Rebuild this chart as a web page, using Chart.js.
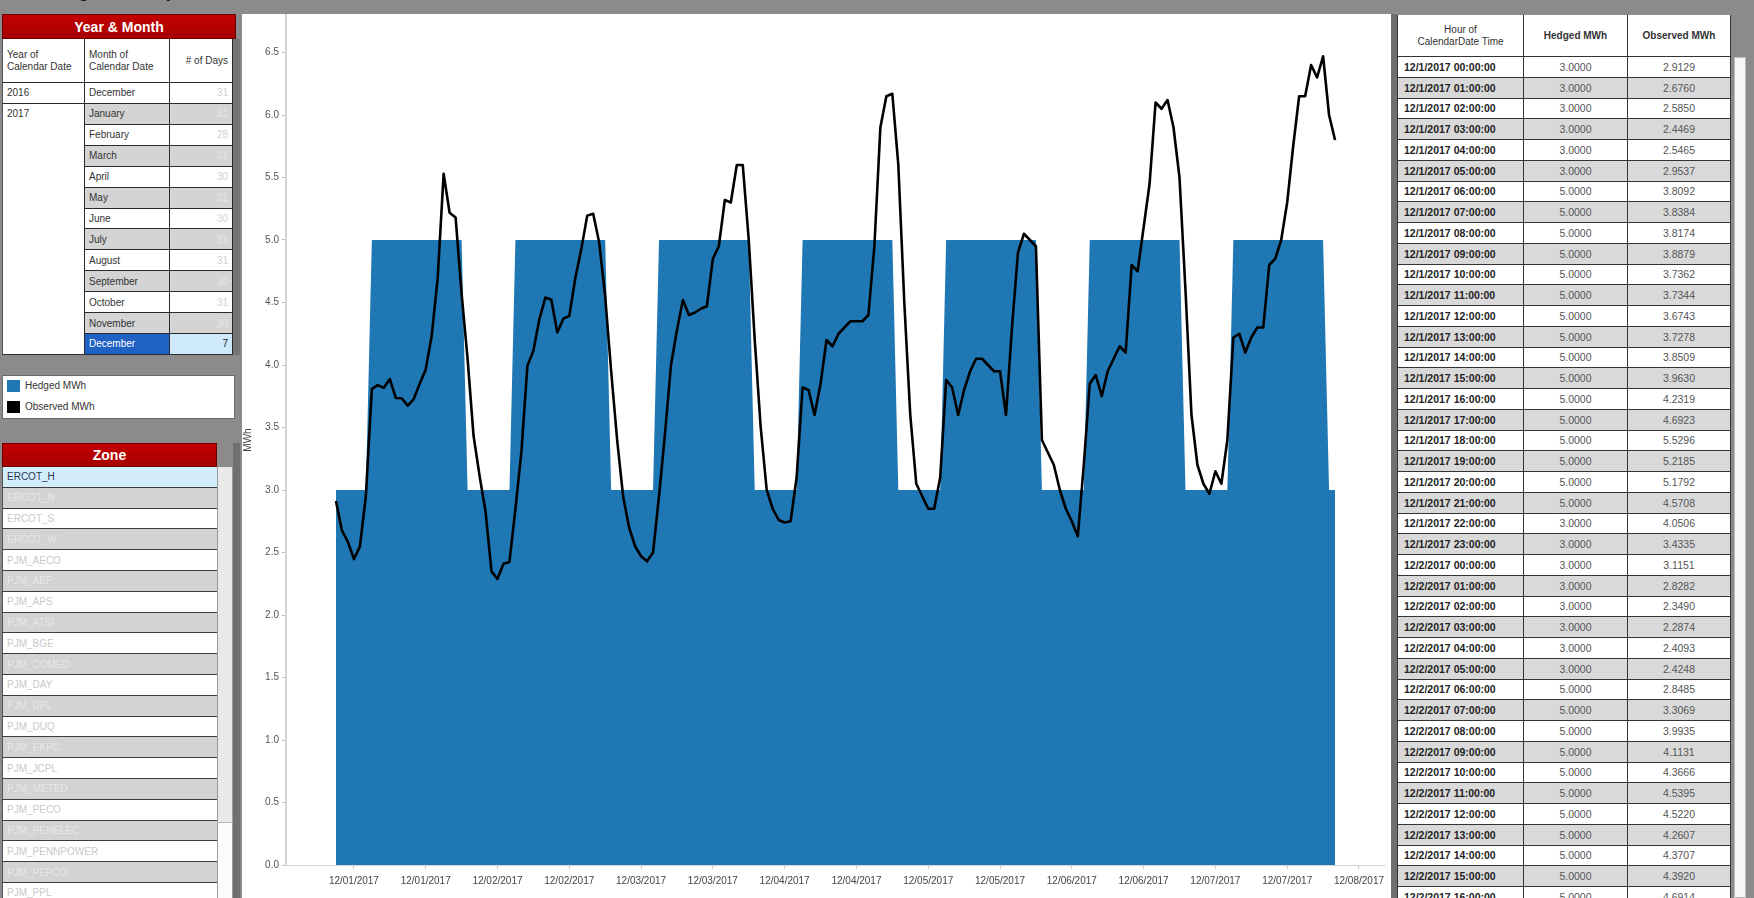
<!DOCTYPE html>
<html lang="en">
<head>
<meta charset="utf-8">
<title>Zone Hedge Summary</title>
<script src="https://cdn.jsdelivr.net/npm/chart.js@4.4.1/dist/chart.umd.min.js"></script>
<style>
  html, body { margin: 0; padding: 0; }
  body {
    width: 1754px; height: 898px; overflow: hidden; position: relative;
    background: #8b8b8b;
    font-family: "Liberation Sans", Arial, Helvetica, sans-serif; color: #333;
  }
  .box { position: absolute; box-sizing: border-box; overflow: hidden; white-space: nowrap; }
  .title { position: absolute; left: 6px; top: -15px; font: bold 16px/16px "Liberation Sans", Arial, sans-serif; color: #1a1a1a; white-space: nowrap; }
  .hdr { background: linear-gradient(#c40000, #a60000); color: #fff; font-weight: bold; font-size: 14px;
         display: flex; align-items: center; justify-content: center; border: 1px solid #6a0000; }
  .cell { font-size: 10px; display: flex; align-items: center; padding: 0 4px; }
  #chartPanel { position: absolute; left: 242px; top: 14px; width: 1149px; height: 884px; background: #fff; }
  #chartPanel canvas { display: block; }
</style>
</head>
<body>
<div class="title">Zone Hedge Summary</div>
<div id="chartPanel"><canvas id="mwhChart" width="1149" height="884" style="width:1149px;height:884px"></canvas></div>

<script>
// ---------- data ----------
const yearMonthYears = ['2016', '2017'];
const monthNames = ['December', 'January', 'February', 'March', 'April', 'May', 'June',
                    'July', 'August', 'September', 'October', 'November', 'December'];
const monthDayCounts = [31, 31, 28, 31, 30, 31, 30, 31, 31, 30, 31, 30, 7];
const selectedMonthIndex = 12;

const zoneNames = ['ERCOT_H', 'ERCOT_N', 'ERCOT_S', 'ERCOT_W', 'PJM_AECO', 'PJM_AEP', 'PJM_APS',
                   'PJM_ATSI', 'PJM_BGE', 'PJM_COMED', 'PJM_DAY', 'PJM_DPL', 'PJM_DUQ', 'PJM_EKPC',
                   'PJM_JCPL', 'PJM_METED', 'PJM_PECO', 'PJM_PENELEC', 'PJM_PENNPOWER', 'PJM_PEPCO', 'PJM_PPL'];
const selectedZoneIndex = 0;

const dayLabels = ['12/1/2017', '12/2/2017', '12/3/2017', '12/4/2017', '12/5/2017', '12/6/2017', '12/7/2017'];
const hourLabels = ['00:00:00', '01:00:00', '02:00:00', '03:00:00', '04:00:00', '05:00:00',
                    '06:00:00', '07:00:00', '08:00:00', '09:00:00', '10:00:00', '11:00:00',
                    '12:00:00', '13:00:00', '14:00:00', '15:00:00', '16:00:00', '17:00:00',
                    '18:00:00', '19:00:00', '20:00:00', '21:00:00', '22:00:00', '23:00:00'];

// hourly hedge (MWh), one row per day
const hedgedMWh = [
  3,3,3,3,3,3, 5,5,5,5,5,5,5,5,5,5,5,5,5,5,5,5, 3,3,
  3,3,3,3,3,3, 5,5,5,5,5,5,5,5,5,5,5,5,5,5,5,5, 3,3,
  3,3,3,3,3,3, 5,5,5,5,5,5,5,5,5,5,5,5,5,5,5,5, 3,3,
  3,3,3,3,3,3, 5,5,5,5,5,5,5,5,5,5,5,5,5,5,5,5, 3,3,
  3,3,3,3,3,3, 5,5,5,5,5,5,5,5,5,5,5,5,5,5,5,5, 3,3,
  3,3,3,3,3,3, 5,5,5,5,5,5,5,5,5,5,5,5,5,5,5,5, 3,3,
  3,3,3,3,3,3, 5,5,5,5,5,5,5,5,5,5,5,5,5,5,5,5, 3,3
];

// hourly observed load (MWh), one row per day
const observedMWh = [
  2.9129, 2.6760, 2.5850, 2.4469, 2.5465, 2.9537, 3.8092, 3.8384, 3.8174, 3.8879, 3.7362, 3.7344,
  3.6743, 3.7278, 3.8509, 3.9630, 4.2319, 4.6923, 5.5296, 5.2185, 5.1792, 4.5708, 4.0506, 3.4335,
  3.1151, 2.8282, 2.3490, 2.2874, 2.4093, 2.4248, 2.8485, 3.3069, 3.9935, 4.1131, 4.3666, 4.5395,
  4.5220, 4.2607, 4.3707, 4.3920, 4.6914, 4.9250, 5.1950, 5.2100, 4.9800, 4.5500, 3.9500, 3.4000,
  2.9500, 2.7000, 2.5500, 2.4700, 2.4300, 2.5000, 2.9500, 3.4500, 4.0000, 4.2800, 4.5200, 4.4000,
  4.4200, 4.4500, 4.4700, 4.8500, 4.9500, 5.3200, 5.3000, 5.6000, 5.6000, 5.0000, 4.2000, 3.5000,
  3.0000, 2.8500, 2.7600, 2.7400, 2.7500, 3.1000, 3.8200, 3.8000, 3.6000, 3.8500, 4.2000, 4.1500,
  4.2500, 4.3000, 4.3500, 4.3500, 4.3500, 4.4000, 4.9500, 5.9000, 6.1500, 6.1700, 5.6000, 4.5000,
  3.6000, 3.0500, 2.9500, 2.8500, 2.8500, 3.1000, 3.8800, 3.8200, 3.6000, 3.8000, 3.9500, 4.0500,
  4.0500, 4.0000, 3.9500, 3.9500, 3.6000, 4.3000, 4.9000, 5.0500, 5.0000, 4.9500, 3.4000, 3.3000,
  3.2000, 3.0000, 2.8500, 2.7500, 2.6300, 3.2000, 3.8500, 3.9200, 3.7500, 3.9500, 4.0500, 4.1500,
  4.1000, 4.8000, 4.7500, 5.1000, 5.4500, 6.1000, 6.0500, 6.1200, 5.9000, 5.5000, 4.6000, 3.6000,
  3.2000, 3.0500, 2.9700, 3.1500, 3.0500, 3.4000, 4.2200, 4.2500, 4.1000, 4.2200, 4.3000, 4.3000,
  4.8000, 4.8500, 5.0000, 5.3000, 5.7500, 6.1500, 6.1500, 6.4000, 6.3000, 6.4700, 6.0000, 5.8000
];

const xTickLabels = ['12/01/2017', '12/01/2017', '12/02/2017', '12/02/2017', '12/03/2017',
                     '12/03/2017', '12/04/2017', '12/04/2017', '12/05/2017', '12/05/2017',
                     '12/06/2017', '12/06/2017', '12/07/2017', '12/07/2017', '12/08/2017'];
const xTickStepHours = 12;
const xTickShiftHours = 3.0;
const tableRowCount = 41;

// ---------- small DOM helpers ----------
function box(x, y, w, h, css, text, cls) {
  const d = document.createElement('div');
  d.className = 'box' + (cls ? ' ' + cls : '');
  d.style.left = x + 'px'; d.style.top = y + 'px';
  d.style.width = w + 'px'; d.style.height = h + 'px';
  if (css) d.style.cssText += css;
  if (text != null) d.innerHTML = text;
  document.body.appendChild(d);
  return d;
}

// ---------- Year & Month filter ----------
box(2, 14, 234, 25, '', 'Year &amp; Month', 'hdr');
box(233, 39, 7, 316, 'background:#747474;');
const ymCols = [2, 85, 170, 233];
const ymHeadTop = 39, ymHeadH = 44, ymRowTop = 83, ymRowH = 20.92;
const cellBorder = 'border-right:1px solid #2b2b2b;border-bottom:1px solid #2b2b2b;';
box(ymCols[0], ymHeadTop, ymCols[1] - ymCols[0], ymHeadH,
    'background:#fff;color:#333;line-height:12px;border-left:1px solid #555;' + cellBorder,
    'Year of<br>Calendar Date', 'cell');
box(ymCols[1], ymHeadTop, ymCols[2] - ymCols[1], ymHeadH,
    'background:#fff;color:#333;line-height:12px;' + cellBorder, 'Month of<br>Calendar Date', 'cell');
box(ymCols[2], ymHeadTop, ymCols[3] - ymCols[2], ymHeadH,
    'background:#fff;color:#333;justify-content:flex-end;' + cellBorder, '# of Days', 'cell');
// year column (2016 has one month, 2017 spans the rest)
box(ymCols[0], ymRowTop, ymCols[1] - ymCols[0], ymRowH,
    'background:#fff;color:#333;border-left:1px solid #555;' + cellBorder, yearMonthYears[0], 'cell');
box(ymCols[0], ymRowTop + ymRowH, ymCols[1] - ymCols[0], ymRowH * (monthNames.length - 1),
    'background:#fff;color:#333;align-items:flex-start;padding-top:4px;line-height:12px;border-left:1px solid #555;' + cellBorder,
    yearMonthYears[1], 'cell');
monthNames.forEach((m, i) => {
  const y = ymRowTop + i * ymRowH;
  const grey = i % 2 === 1;
  const sel = i === selectedMonthIndex;
  const bgM = sel ? '#1f62c4' : (grey ? '#d4d4d4' : '#fff');
  const bgD = sel ? '#cfe9fc' : (grey ? '#d4d4d4' : '#fff');
  box(ymCols[1], y, ymCols[2] - ymCols[1], ymRowH,
      'background:' + bgM + ';color:' + (sel ? '#fff' : '#333') + ';' + cellBorder, m, 'cell');
  box(ymCols[2], y, ymCols[3] - ymCols[2], ymRowH,
      'background:' + bgD + ';justify-content:flex-end;color:' + (sel ? '#222' : (grey ? '#e6e6e6' : '#d2d2d2')) + ';' + cellBorder,
      String(monthDayCounts[i]), 'cell');
});

// ---------- legend ----------
box(2, 375, 233, 44, 'background:#fff;border:1px solid #6a6a6a;');
box(7, 380, 13, 12, 'background:#1f77b4;');
box(25, 379, 150, 14, 'font-size:10px;line-height:14px;color:#333;', 'Hedged MWh');
box(7, 401, 13, 12, 'background:#000;');
box(25, 400, 150, 14, 'font-size:10px;line-height:14px;color:#333;', 'Observed MWh');

// ---------- Zone filter ----------
box(2, 443, 215, 24, '', 'Zone', 'hdr');
box(233, 443, 7, 455, 'background:#707070;');
box(217, 467, 16, 431, 'background:#fbfbfb;border-left:1px solid #9a9a9a;border-right:1px solid #9a9a9a;');
box(217, 467, 16, 356, 'background:#e9e9e9;border-left:1px solid #9a9a9a;border-right:1px solid #9a9a9a;border-bottom:1px solid #b5b5b5;');
const zoneTop = 467, zoneRowH = 20.8;
zoneNames.forEach((z, i) => {
  const sel = i === selectedZoneIndex;
  const grey = i % 2 === 1;
  box(2, zoneTop + i * zoneRowH, 215, zoneRowH,
      'background:' + (sel ? '#d4edfb' : (grey ? '#d3d3d3' : '#fff')) +
      ';color:' + (sel ? '#2c3550' : (grey ? '#e7e7e7' : '#c9c9c9')) +
      ';border-bottom:1px solid #3c3c3c;border-left:1px solid #555;', z, 'cell');
});

// ---------- hourly table ----------
box(1391, 14, 6, 884, 'background:#6f6f6f;');
const tCols = [1397, 1524, 1628, 1731];
const tHeadTop = 15, tHeadH = 42, tRowTop = 57, tRowH = 20.75;
const tBorder = 'border-right:1px solid #333;border-bottom:1px solid #333;';
box(tCols[0], tHeadTop, tCols[1] - tCols[0], tHeadH,
    'background:#fff;justify-content:center;text-align:center;line-height:12px;color:#333;border-left:1px solid #333;' + tBorder,
    'Hour of<br>CalendarDate Time', 'cell');
box(tCols[1], tHeadTop, tCols[2] - tCols[1], tHeadH,
    'background:#fff;justify-content:center;font-weight:bold;color:#333;' + tBorder, 'Hedged MWh', 'cell');
box(tCols[2], tHeadTop, tCols[3] - tCols[2], tHeadH,
    'background:#fff;justify-content:center;font-weight:bold;color:#333;' + tBorder, 'Observed MWh', 'cell');
for (let i = 0; i < tableRowCount; i++) {
  const y = tRowTop + i * tRowH;
  const bg = i % 2 === 1 ? '#d9d9d9' : '#fff';
  const label = dayLabels[Math.floor(i / 24)] + ' ' + hourLabels[i % 24];
  box(tCols[0], y, tCols[1] - tCols[0], tRowH,
      'background:' + bg + ';font-weight:bold;color:#222;font-size:10.5px;padding-left:6px;border-left:1px solid #333;' + tBorder,
      label, 'cell');
  box(tCols[1], y, tCols[2] - tCols[1], tRowH,
      'background:' + bg + ';justify-content:center;color:#555;font-size:10.5px;' + tBorder,
      hedgedMWh[i].toFixed(4), 'cell');
  box(tCols[2], y, tCols[3] - tCols[2], tRowH,
      'background:' + bg + ';justify-content:center;color:#555;font-size:10.5px;' + tBorder,
      observedMWh[i].toFixed(4), 'cell');
}
box(1734, 57, 12, 841, 'background:#f6f6f6;border:1px solid #bcbcbc;');

// ---------- chart ----------
const hedgedPoints = hedgedMWh.map((v, i) => ({ x: i, y: v }));
const observedPoints = observedMWh.map((v, i) => ({ x: i, y: v }));
const tickFont = { family: '"Liberation Sans", Arial, sans-serif', size: 10 };

new Chart(document.getElementById('mwhChart'), {
  type: 'line',
  data: {
    datasets: [
      {
        label: 'Observed MWh', data: observedPoints, order: 0,
        borderColor: '#000', borderWidth: 2.6, borderJoinStyle: 'round',
        pointRadius: 0, tension: 0, fill: false
      },
      {
        label: 'Hedged MWh', data: hedgedPoints, order: 1,
        borderColor: '#1f77b4', backgroundColor: '#1f77b4', borderWidth: 0,
        pointRadius: 0, tension: 0, fill: 'origin'
      }
    ]
  },
  options: {
    responsive: false, animation: false, devicePixelRatio: 1,
    layout: { padding: { left: 0, right: 6, top: 1, bottom: 0 } },
    plugins: { legend: { display: false }, tooltip: { enabled: false } },
    scales: {
      x: {
        type: 'linear', min: -8.35, max: 175.35,
        afterBuildTicks: s => { s.ticks = xTickLabels.map((_, i) => ({ value: i * xTickStepHours + xTickShiftHours })); },
        afterFit: s => { s.height = 33; s.paddingLeft = 0; s.paddingRight = 0; },
        ticks: {
          autoSkip: false, maxRotation: 0, minRotation: 0, padding: 6,
          font: tickFont, color: '#444',
          callback: (v, i) => xTickLabels[i]
        },
        grid: { display: true, drawOnChartArea: false, drawTicks: true, tickLength: 4, color: '#c8c8c8' },
        border: { display: true, color: '#d6d6d6', width: 1 }
      },
      y: {
        min: 0, max: 6.8,
        afterFit: s => { s.width = 44; s.paddingTop = 0; s.paddingBottom = 0; },
        ticks: {
          stepSize: 0.5, includeBounds: false, padding: 3,
          font: tickFont, color: '#555',
          callback: v => v.toFixed(1)
        },
        title: {
          display: true, text: 'MWh', padding: { top: 0, bottom: 0 },
          font: tickFont, color: '#444'
        },
        grid: { display: true, drawOnChartArea: false, drawTicks: true, tickLength: 4, color: '#bdbdbd' },
        border: { display: true, color: '#d2d2d2', width: 2 }
      }
    }
  }
});
</script>
</body>
</html>
